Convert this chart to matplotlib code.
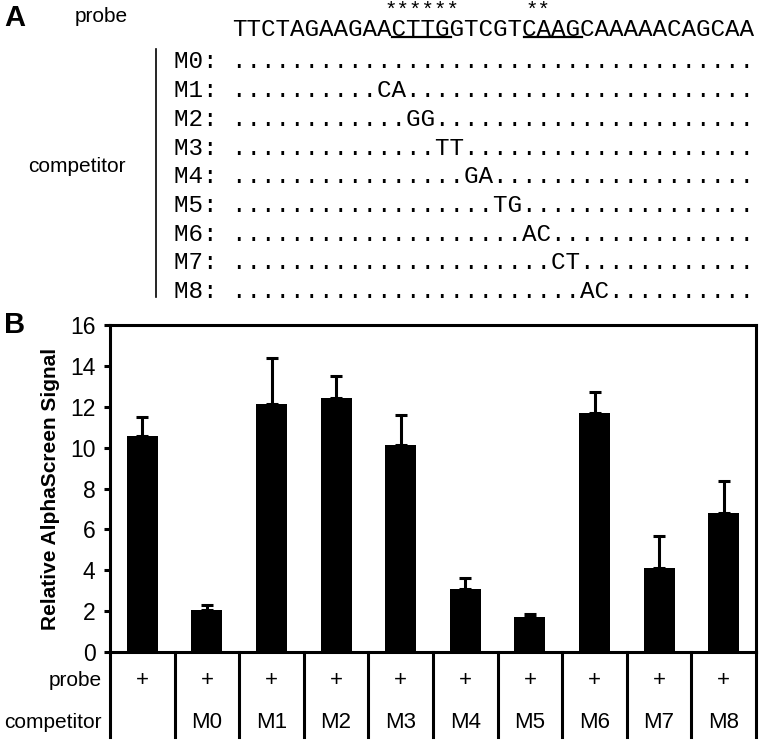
import matplotlib
matplotlib.use("Agg")
import matplotlib.pyplot as plt
import matplotlib.transforms as mtransforms

# panel A: probe sequence and competitor mutants
probe_seq = "TTCTAGAAGAACTTGGTCGTCAAGCAAAAACAGCAA"
star_groups = [(10, "******"), (20, "**")]
underline_spans = [(11, 15), (20, 24)]
mutant_names = ["M0", "M1", "M2", "M3", "M4", "M5", "M6", "M7", "M8"]
mutant_start = [None, 10, 12, 14, 16, 18, 20, 22, 24]
mutant_bases = ["", "CA", "GG", "TT", "GA", "TG", "AC", "CT", "AC"]

# panel B: AlphaScreen signal
groups = ["", "M0", "M1", "M2", "M3", "M4", "M5", "M6", "M7", "M8"]
probe_row = ["+"] * 10
signal = [10.55, 2.06, 12.15, 12.45, 10.15, 3.1, 1.7, 11.7, 4.1, 6.8]
signal_err = [0.95, 0.24, 2.25, 1.05, 1.45, 0.5, 0.15, 1.0, 1.6, 1.55]

W, H = 764, 742
fig = plt.figure(figsize=(W / 100, H / 100), dpi=100)
sans = ["Liberation Sans", "DejaVu Sans"]
mono = ["Liberation Mono", "DejaVu Sans Mono"]

# overlay in pixel units for panel A and labels
ov = fig.add_axes([0, 0, 1, 1])
ov.set_xlim(0, W)
ov.set_ylim(H, 0)
ov.axis("off")

mono_size = 17.5
col_w = 0.6 * mono_size * 100 / 72   # px per character
seq_x = 232
row0_y, row_dy = 62, 28.7

ov.text(4, 18, "A", fontsize=21, fontweight="bold", family=sans, va="center")
ov.text(75, 16, "probe", fontsize=15, family=sans, va="center")
ov.text(seq_x, 29, probe_seq, fontsize=mono_size, family=mono, va="center")

for start, s in star_groups:
    cx = seq_x + (start + len(s) / 2) * col_w
    ov.text(cx, 1, s, fontsize=15, family=mono, va="top", ha="center")
for a, b in underline_spans:
    ov.plot([seq_x + a * col_w, seq_x + b * col_w], [37, 37], color="black", lw=1.6)

for i, name in enumerate(mutant_names):
    row = ["."] * len(probe_seq)
    if mutant_start[i] is not None:
        for j, ch in enumerate(mutant_bases[i]):
            row[mutant_start[i] + j] = ch
    ov.text(seq_x - 4 * col_w, row0_y + i * row_dy, name + ": " + "".join(row),
            fontsize=mono_size, family=mono, va="center")

ov.plot([156, 156], [49, 297], color="black", lw=1.2)
ov.text(126, 167, "competitor", fontsize=15, family=sans, va="center", ha="right")

# panel B
ax = fig.add_axes([110 / W, (H - 652) / H, 646 / W, 327 / H])
x = list(range(len(groups)))
ax.bar(x, signal, width=0.48, color="black")
ax.errorbar(x, signal, yerr=[[0] * len(signal), signal_err], fmt="none",
            ecolor="black", elinewidth=2.2, capsize=4.5, capthick=2.2)
ax.set_xlim(-0.5, len(groups) - 0.5)
ax.set_ylim(0, 16)
ax.set_yticks(range(0, 17, 2))
ax.set_xticks([])
for s in ax.spines.values():
    s.set_linewidth(2.2)
ax.tick_params(axis="y", length=4.5, width=2.2, pad=6, labelsize=16.5)
for lab in ax.get_yticklabels():
    lab.set_family(sans)
ax.set_ylabel("Relative AlphaScreen Signal", fontsize=15, fontweight="bold",
              family=sans, labelpad=7)

# table under the bars
trans = mtransforms.blended_transform_factory(ax.transData, ax.transAxes)
tbl_bottom = -(737 - 652) / 327
for k in range(len(groups) + 1):
    ax.plot([k - 0.5, k - 0.5], [0, tbl_bottom], color="black", lw=2.2,
            transform=trans, clip_on=False)
for k in range(len(groups)):
    ax.text(k, -(680 - 652) / 327, probe_row[k], transform=trans, ha="center",
            va="center", fontsize=16, family=sans)
    ax.text(k, -(723 - 652) / 327, groups[k], transform=trans, ha="center",
            va="center", fontsize=16, family=sans)
ov.text(102, 680, "probe", fontsize=15, family=sans, va="center", ha="right")
ov.text(102, 723, "competitor", fontsize=15, family=sans, va="center", ha="right")
ov.text(4, 325, "B", fontsize=21, fontweight="bold", family=sans, va="center")

fig.savefig("out.png", dpi=100)
